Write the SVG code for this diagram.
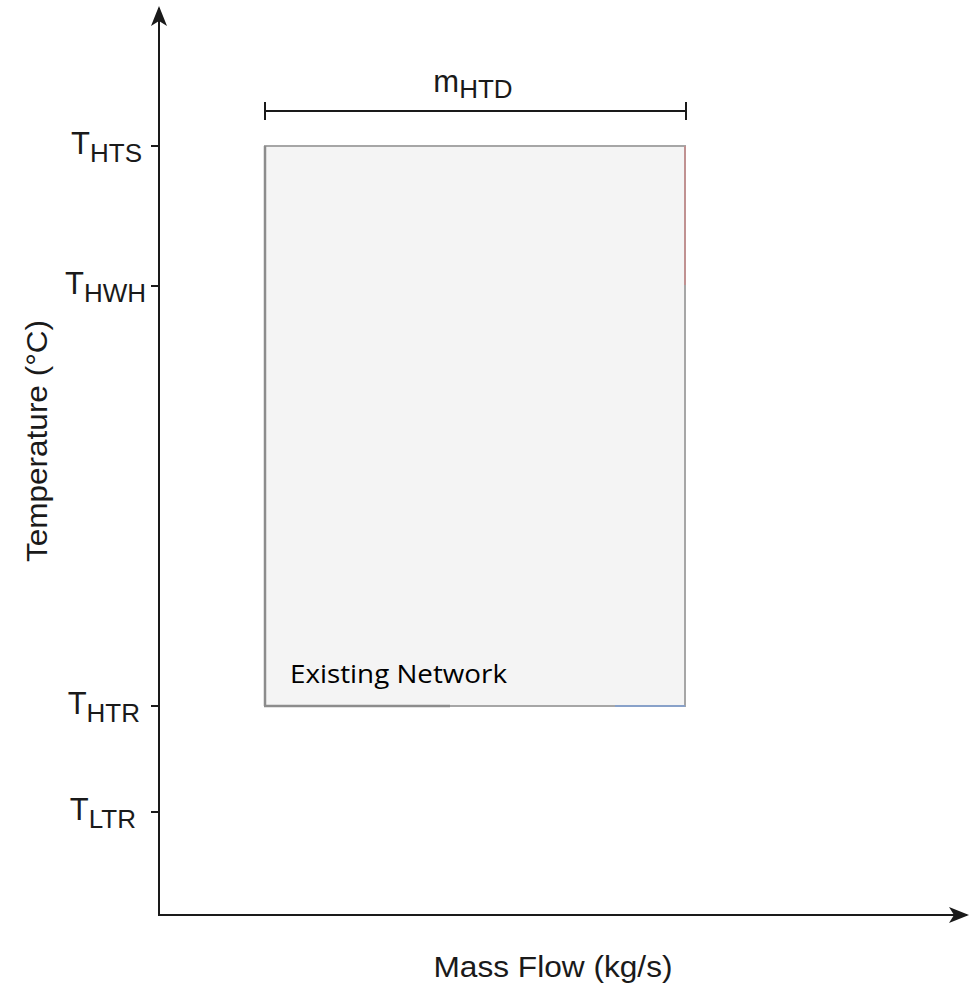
<svg xmlns="http://www.w3.org/2000/svg" width="975" height="988" viewBox="0 0 975 988">
<defs>
<style>
.ax{stroke:#1a1a1a;stroke-width:2;fill:none}
.tick{stroke:#1a1a1a;stroke-width:2}
.lbl{font-family:"Liberation Sans",Arial,sans-serif;fill:#1a1a1a}
.big{font-size:31px}
.sub{font-size:26px}
</style>
<marker id="ah" viewBox="0 0 20 20" refX="18" refY="10" markerWidth="20" markerHeight="20" markerUnits="userSpaceOnUse" orient="auto">
<path d="M0,2 L20,10 L0,18 L5,10 Z" fill="#1a1a1a"/>
</marker>
</defs>
<rect width="975" height="988" fill="#ffffff"/>
<g id="connectors">
<line class="ax" x1="159" y1="916" x2="159" y2="8" marker-end="url(#ah)"/>
<line class="ax" x1="158" y1="915" x2="967" y2="915" marker-end="url(#ah)"/>
<line class="tick" x1="151" y1="146" x2="159" y2="146"/>
<line class="tick" x1="151" y1="286" x2="159" y2="286"/>
<line class="tick" x1="151" y1="706" x2="159" y2="706"/>
<line class="tick" x1="151" y1="812" x2="159" y2="812"/>
<g id="dimension">
<line class="tick" x1="265" y1="111" x2="686" y2="111"/>
<line class="tick" x1="265" y1="102" x2="265" y2="120"/>
<line class="tick" x1="686" y1="102" x2="686" y2="120"/>
</g>
</g>
<g id="existing-network">
<rect x="265" y="146" width="420" height="560" fill="#f4f4f4" stroke="#a6a6a6" stroke-width="2"/>
<line x1="265" y1="146" x2="265" y2="706" stroke="#8c8c8c" stroke-width="2.5"/>
<line x1="264" y1="706" x2="450" y2="706" stroke="#8c8c8c" stroke-width="2.5"/>
<line x1="685" y1="146" x2="685" y2="285" stroke="#c98a8a" stroke-width="1.5"/>
<line x1="615" y1="706" x2="685" y2="706" stroke="#7e9fd4" stroke-width="1.5"/>
<text x="290" y="683" font-family="'Open Sans','Noto Sans',sans-serif" font-size="26" fill="#000" textLength="217" lengthAdjust="spacingAndGlyphs">Existing Network</text>
</g>
<g id="labels">
<text class="lbl" x="142" y="154" text-anchor="end"><tspan class="big">T</tspan><tspan class="sub" dy="8">HTS</tspan></text>
<text class="lbl" x="146" y="294" text-anchor="end"><tspan class="big">T</tspan><tspan class="sub" dy="8">HWH</tspan></text>
<text class="lbl" x="140" y="714" text-anchor="end"><tspan class="big">T</tspan><tspan class="sub" dy="8">HTR</tspan></text>
<text class="lbl" x="136" y="820" text-anchor="end"><tspan class="big">T</tspan><tspan class="sub" dy="8">LTR</tspan></text>
<text class="lbl" x="473" y="92" text-anchor="middle"><tspan class="big">m</tspan><tspan class="sub" dy="6">HTD</tspan></text>
<text class="lbl" x="553" y="977" text-anchor="middle" font-size="30" textLength="239" lengthAdjust="spacingAndGlyphs">Mass Flow (kg/s)</text>
<text class="lbl" transform="translate(47,441) rotate(-90)" x="0" y="0" text-anchor="middle" font-size="30" textLength="242" lengthAdjust="spacingAndGlyphs">Temperature (°C)</text>
</g>
</svg>
